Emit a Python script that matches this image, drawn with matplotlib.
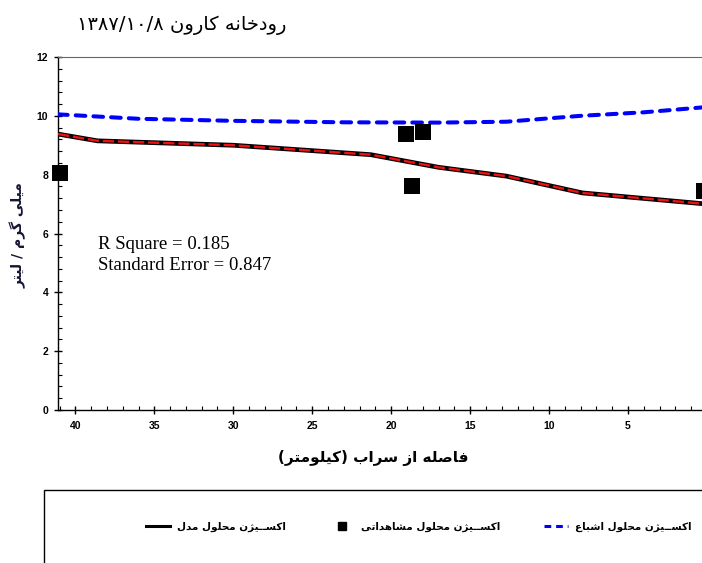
import re
import matplotlib
matplotlib.use("Agg")
import matplotlib.pyplot as plt
from matplotlib.lines import Line2D
from matplotlib.patches import Rectangle

# ---- data (distance from the source in km, mg/l)
model_km = [41.1, 38.6, 30.0, 21.3, 17.0, 12.7, 7.9, 0.0]
model_do = [9.38, 9.15, 9.00, 8.68, 8.25, 7.95, 7.38, 7.00]
obs_km = [41.0, 19.05, 18.0, 18.7, 0.2]
obs_do = [8.06, 9.38, 9.45, 7.63, 7.44]
sat_km = [41.1, 36.0, 30.0, 23.0, 17.0, 12.7, 8.0, 4.0, 0.0]
sat_do = [10.05, 9.90, 9.83, 9.78, 9.77, 9.80, 10.00, 10.12, 10.30]

title_txt = "رودخانه کارون ۱۳۸۷/۱۰/۸"
xlabel_txt = "فاصله از سراب (کیلومتر)"
ylabel_txt = "میلی گرم / لیتر"
leg_labels = ["اکســیژن محلول مدل", "اکســیژن محلول مشاهداتی", "اکســیژن محلول اشباع"]
stats_txt = "R Square = 0.185\nStandard Error = 0.847"

# ---- tiny arabic/persian shaper (matplotlib has no text shaping)
# forms: isolated, final, initial, medial
FORMS = {
    'ا': (0xFE8D, 0xFE8E, None, None), 'ب': (0xFE8F, 0xFE90, 0xFE91, 0xFE92),
    'ت': (0xFE95, 0xFE96, 0xFE97, 0xFE98), 'ح': (0xFEA1, 0xFEA2, 0xFEA3, 0xFEA4),
    'خ': (0xFEA5, 0xFEA6, 0xFEA7, 0xFEA8), 'د': (0xFEA9, 0xFEAA, None, None),
    'ر': (0xFEAD, 0xFEAE, None, None), 'ز': (0xFEAF, 0xFEB0, None, None),
    'ژ': (0xFB8A, 0xFB8B, None, None), 'س': (0xFEB1, 0xFEB2, 0xFEB3, 0xFEB4),
    'ش': (0xFEB5, 0xFEB6, 0xFEB7, 0xFEB8), 'ص': (0xFEB9, 0xFEBA, 0xFEBB, 0xFEBC),
    'ع': (0xFEC9, 0xFECA, 0xFECB, 0xFECC), 'ف': (0xFED1, 0xFED2, 0xFED3, 0xFED4),
    'ک': (0xFB8E, 0xFB8F, 0xFB90, 0xFB91), 'گ': (0xFB92, 0xFB93, 0xFB94, 0xFB95),
    'ل': (0xFEDD, 0xFEDE, 0xFEDF, 0xFEE0), 'م': (0xFEE1, 0xFEE2, 0xFEE3, 0xFEE4),
    'ن': (0xFEE5, 0xFEE6, 0xFEE7, 0xFEE8), 'ه': (0xFEE9, 0xFEEA, 0xFEEB, 0xFEEC),
    'و': (0xFEED, 0xFEEE, None, None), 'ی': (0xFBFC, 0xFBFD, 0xFBFE, 0xFBFF),
}
TATWEEL = 'ـ'


def joins_next(c):
    return c == TATWEEL or (c in FORMS and FORMS[c][2] is not None)


def joins_prev(c):
    return c == TATWEEL or c in FORMS


def shape(s):
    out = []
    for i, c in enumerate(s):
        if c not in FORMS:
            out.append(c)
            continue
        prev = s[i - 1] if i > 0 else ''
        nxt = s[i + 1] if i + 1 < len(s) else ''
        p = prev != '' and joins_next(prev)
        n = nxt != '' and joins_next(c) and joins_prev(nxt)
        iso, fin, ini, med = FORMS[c]
        if p and n:
            code = med
        elif p:
            code = fin
        elif n:
            code = ini
        else:
            code = iso
        out.append(chr(code))
    return ''.join(out)


def fa(s):
    s = shape(s)
    parts = re.split(r'([0-9۰-۹][0-9۰-۹/.]*)', s)
    mirror = str.maketrans('()', ')(')
    vis = []
    for p in parts:
        if p and re.match(r'[0-9۰-۹]', p):
            vis.append(p)
        else:
            vis.append(p[::-1].translate(mirror))
    return ''.join(vis[::-1])


fa_font = ['DejaVu Sans']
num_font = ['Liberation Sans Narrow', 'Liberation Sans', 'DejaVu Sans']

fig = plt.figure(figsize=(7.02, 5.63), dpi=100)
ax = fig.add_axes([58 / 702, 153 / 563, 649 / 702, 353 / 563])

ax.plot(sat_km, sat_do, color='#0000ff', lw=2.9, dashes=(2.4, 2.0),
        dash_capstyle='round', zorder=3)
ax.plot(model_km, model_do, color='black', lw=3.4, zorder=4)
ax.plot(model_km, model_do, color='#ee1111', lw=1.7, dashes=(4.8, 1.6), zorder=5)
ax.plot(obs_km, obs_do, linestyle='none', marker='s', markersize=12,
        color='black', markeredgewidth=0, zorder=6, clip_on=False)

ax.set_xlim(41.1, 0.0)
ax.set_ylim(0, 12)
ax.set_xticks([40, 35, 30, 25, 20, 15, 10, 5])
ax.set_xticks(range(1, 42), minor=True)
ax.set_yticks(range(0, 13, 2))
ax.set_yticks([i * 0.4 for i in range(31)], minor=True)

ax.spines['right'].set_visible(False)
ax.spines['top'].set_linestyle((0, (1, 1)))
ax.spines['top'].set_color('#666666')
ax.spines['top'].set_linewidth(0.8)
for sp in ('left', 'bottom'):
    ax.spines[sp].set_linewidth(1.0)

ax.tick_params(which='major', direction='inout', length=6, width=1.0)
ax.tick_params(which='minor', direction='in', length=3, width=0.8)
for lab in ax.get_xticklabels() + ax.get_yticklabels():
    lab.set_family(num_font)
    lab.set_fontsize(7.5)
    lab.set_fontweight('bold')
ax.tick_params(axis='x', pad=5)
ax.tick_params(axis='y', pad=4)

fig.text(98 / 702, 1 - 255 / 563, stats_txt, family=['Liberation Serif'],
         fontsize=13.5, ha='left', va='center', linespacing=1.25)

fig.text(77 / 702, 1 - 25 / 563, fa(title_txt), family=fa_font,
         fontsize=14, ha='left', va='center')
fig.text(373 / 702, 1 - 458 / 563, fa(xlabel_txt), family=fa_font,
         fontsize=11, fontweight='bold', ha='center', va='center')
fig.text(18 / 702, 1 - 235 / 563, fa(ylabel_txt), family=fa_font,
         fontsize=10, fontweight='bold', color='#151535', rotation=90,
         ha='center', va='center')

# legend box below the plot
fig.patches.append(Rectangle((44 / 702, -0.01), 0.95, 1 - 490 / 563 + 0.01,
                             transform=fig.transFigure, fill=False,
                             edgecolor='black', lw=1.0))
handles = [Line2D([], [], color='black', lw=2.2),
           Line2D([], [], linestyle='none', marker='s', markersize=6, color='black'),
           Line2D([], [], color='#0000ff', lw=2.2, dashes=(2.2, 1.6))]
leg = fig.legend(handles, [fa(t) for t in leg_labels], ncol=3, frameon=False,
                 loc='center', bbox_to_anchor=(419 / 702, 1 - 527 / 563),
                 prop={'family': fa_font, 'size': 7.5, 'weight': 'bold'},
                 handlelength=2.3, columnspacing=4.2, handletextpad=0.7)

fig.savefig('out.png', dpi=100)
